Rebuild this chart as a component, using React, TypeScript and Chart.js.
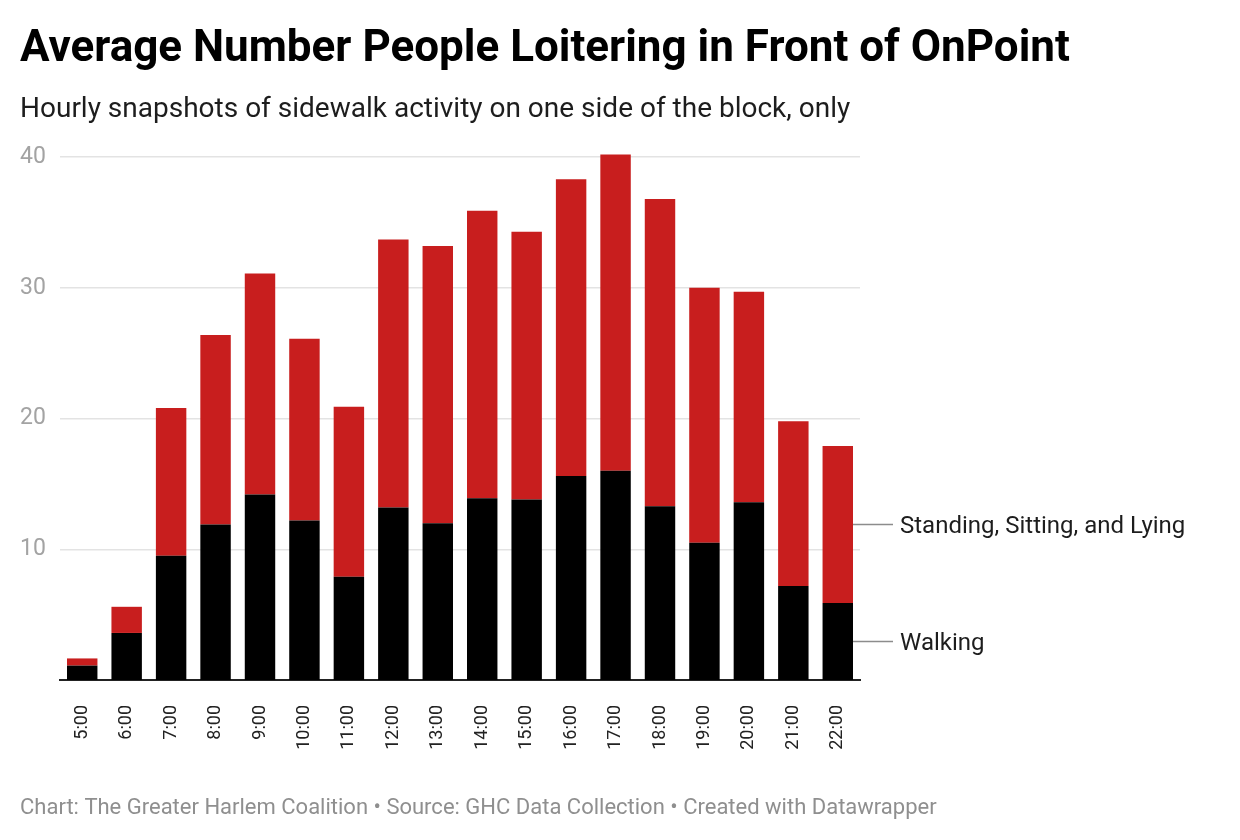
import React, { useEffect, useRef } from 'react';
import { Chart, registerables } from 'chart.js';

Chart.register(...registerables);

const hours = ['5:00', '6:00', '7:00', '8:00', '9:00', '10:00', '11:00', '12:00', '13:00', '14:00', '15:00', '16:00', '17:00', '18:00', '19:00', '20:00', '21:00', '22:00'];
const walking = [1.1, 3.6, 9.5, 11.9, 14.2, 12.2, 7.9, 13.2, 12.0, 13.9, 13.8, 15.6, 16.0, 13.3, 10.5, 13.6, 7.2, 5.9];
const standing = [0.55, 2.0, 11.3, 14.5, 16.9, 13.9, 13.0, 20.5, 21.2, 22.0, 20.5, 22.7, 24.2, 23.5, 19.5, 16.1, 12.6, 12.0];
const yTicks = [10, 20, 30, 40];
const seriesNames = ['Walking', 'Standing, Sitting, and Lying'];
const seriesColors = ['#000000', '#c81e1e'];
const titleText = 'Average Number People Loitering in Front of OnPoint';
const subtitleText = 'Hourly snapshots of sidewalk activity on one side of the block, only';
const footerText = 'Chart: The Greater Harlem Coalition • Source: GHC Data Collection • Created with Datawrapper';

const FONT = 'Roboto, "Noto Sans", sans-serif';

const annotate = {
  id: 'annotate',
  afterDatasetsDraw(chart: any) {
    const ctx = chart.ctx;
    ctx.save();
    chart.data.datasets.forEach((ds: any, i: number) => {
      const meta = chart.getDatasetMeta(i);
      const bar = meta.data[meta.data.length - 1];
      const p = bar.getProps(['x', 'y', 'base', 'width'], true);
      const midY = (p.y + p.base) / 2;
      const x0 = p.x + p.width / 2;
      ctx.strokeStyle = '#8c8c8c';
      ctx.lineWidth = 1.5;
      ctx.beginPath();
      ctx.moveTo(x0, midY);
      ctx.lineTo(x0 + 40, midY);
      ctx.stroke();
      ctx.fillStyle = '#1d1d1d';
      ctx.font = `24px ${FONT}`;
      ctx.textBaseline = 'alphabetic';
      ctx.textAlign = 'left';
      ctx.fillText(ds.label, x0 + 47, midY + 8.5);
    });
    ctx.restore();
  },
  afterDraw(chart: any) {
    const ctx = chart.ctx;
    ctx.save();
    ctx.textAlign = 'left';
    ctx.textBaseline = 'alphabetic';
    ctx.fillStyle = '#000000';
    ctx.font = `bold 44px ${FONT}`;
    ctx.fillText(titleText, 20, 61);
    ctx.fillStyle = '#1d1d1d';
    ctx.font = `28px ${FONT}`;
    ctx.fillText(subtitleText, 20, 117);
    ctx.fillStyle = '#8f8f8f';
    ctx.font = `22px ${FONT}`;
    ctx.fillText(footerText, 20, 814);
    ctx.restore();
  },
};

export default function App() {
  const ref = useRef<HTMLCanvasElement | null>(null);
  useEffect(() => {
    if (!ref.current) return;
    const chart = new Chart(ref.current, {
      type: 'bar',
      data: {
        labels: hours,
        datasets: [
          { label: seriesNames[0], data: walking, backgroundColor: seriesColors[0] },
          { label: seriesNames[1], data: standing, backgroundColor: seriesColors[1] },
        ],
      },
      options: {
        responsive: false,
        animation: false,
        devicePixelRatio: 1,
        layout: { padding: { left: 20, top: 131, right: 380, bottom: 0 } },
        datasets: { bar: { barPercentage: 0.685, categoryPercentage: 1, borderWidth: 0 } },
        plugins: { legend: { display: false }, tooltip: { enabled: false }, title: { display: false } },
        scales: {
          x: {
            stacked: true,
            grid: { display: false },
            border: { display: true, color: '#222222', width: 2 },
            ticks: {
              autoSkip: false,
              minRotation: 90,
              maxRotation: 90,
              padding: 17,
              color: '#222222',
              font: { family: FONT, size: 18 },
            },
            afterFit(scale: any) {
              scale.height = 160;
              scale.paddingLeft = 0;
              scale.paddingRight = 0;
            },
          },
          y: {
            stacked: true,
            min: 0,
            max: 42,
            border: { display: false },
            grid: { color: '#e3e3e3', lineWidth: 1.5, drawTicks: false },
            ticks: {
              crossAlign: 'far',
              color: '#a3a3a3',
              font: { family: FONT, size: 23 },
            },
            afterBuildTicks(scale: any) {
              scale.ticks = yTicks.map((v) => ({ value: v }));
            },
            afterFit(scale: any) {
              scale.width = 40;
              scale.paddingTop = 0;
              scale.paddingBottom = 0;
            },
          },
        },
      },
      plugins: [annotate],
    } as any);
    return () => chart.destroy();
  }, []);
  return (
    <div style={{ position: 'absolute', left: 0, top: 0, width: 1240, height: 840, background: '#fff' }}>
      <canvas ref={ref} width={1240} height={840} style={{ width: 1240, height: 840, display: 'block' }} />
    </div>
  );
}
